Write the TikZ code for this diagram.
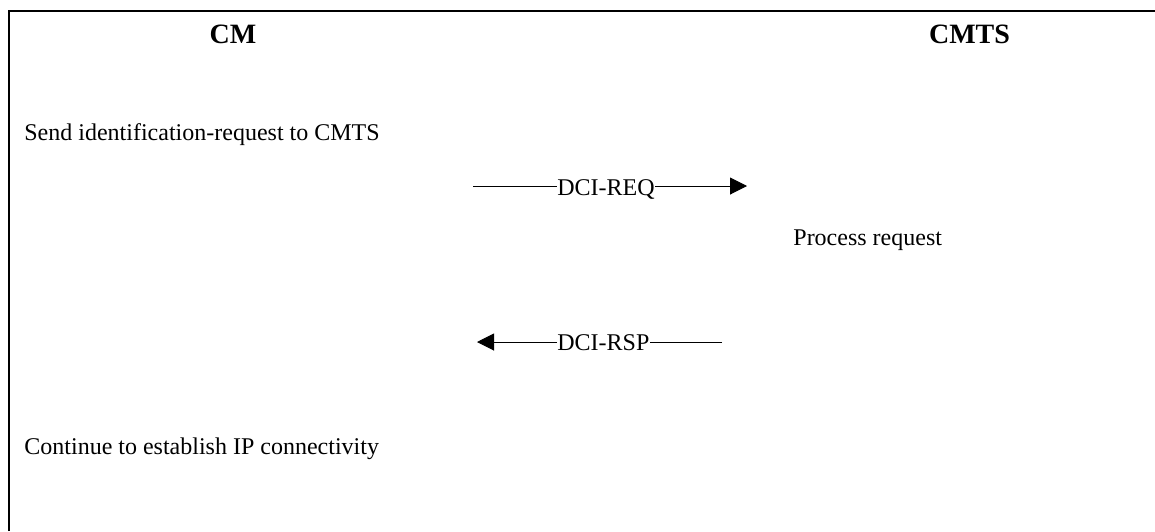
\documentclass[tikz,border=0pt]{standalone}
\usepackage{fontspec}
\setmainfont{Liberation Serif}
\usetikzlibrary{arrows.meta,calc}

\begin{document}
\begin{tikzpicture}[
  x=0.5pt,y=-0.5pt,
  font=\fontsize{12}{14}\selectfont,
  head/.style={font=\fontsize{14}{16}\selectfont\bfseries,anchor=base,inner sep=0pt},
  act/.style={anchor=base west,inner sep=0pt},
  msg/.style={anchor=base west,inner sep=0pt},
  wire/.style={line width=0.5pt},
  tip/.style={wire,-{Triangle[length=8.5pt,width=8.5pt]}},
]
\useasboundingbox (0,0) rectangle (1155,531);
\draw[line width=1pt] (9,531) -- (9,11) -- (1155,11);   % frame, open at right and bottom

\node[head] (cm)   at (233,43)   {CM};
\node[head] (cmts) at (969.5,43) {CMTS};

\node[act] (send) at (24,140)  {Send identification-request to CMTS};
\node[act] (proc) at (793,245) {Process request};
\node[act] (cont) at (24,454)  {Continue to establish IP connectivity};

% request, CM to CMTS
\node[msg] (req) at (557,195) {DCI-REQ};
\coordinate (reqL) at (473,186);
\coordinate (reqR) at (747,186);
\draw[wire] (reqL) -- (reqL -| req.west);
\draw[tip] (reqR -| req.east) -- (reqR);

% response, CMTS to CM
\node[msg] (rsp) at (557,350) {DCI-RSP};
\coordinate (rspL) at (477,342);
\coordinate (rspR) at (722,342);
\draw[wire] (rspR) -- (rspR -| rsp.east);
\draw[tip] (rspL -| rsp.west) -- (rspL);
\end{tikzpicture}
\end{document}
